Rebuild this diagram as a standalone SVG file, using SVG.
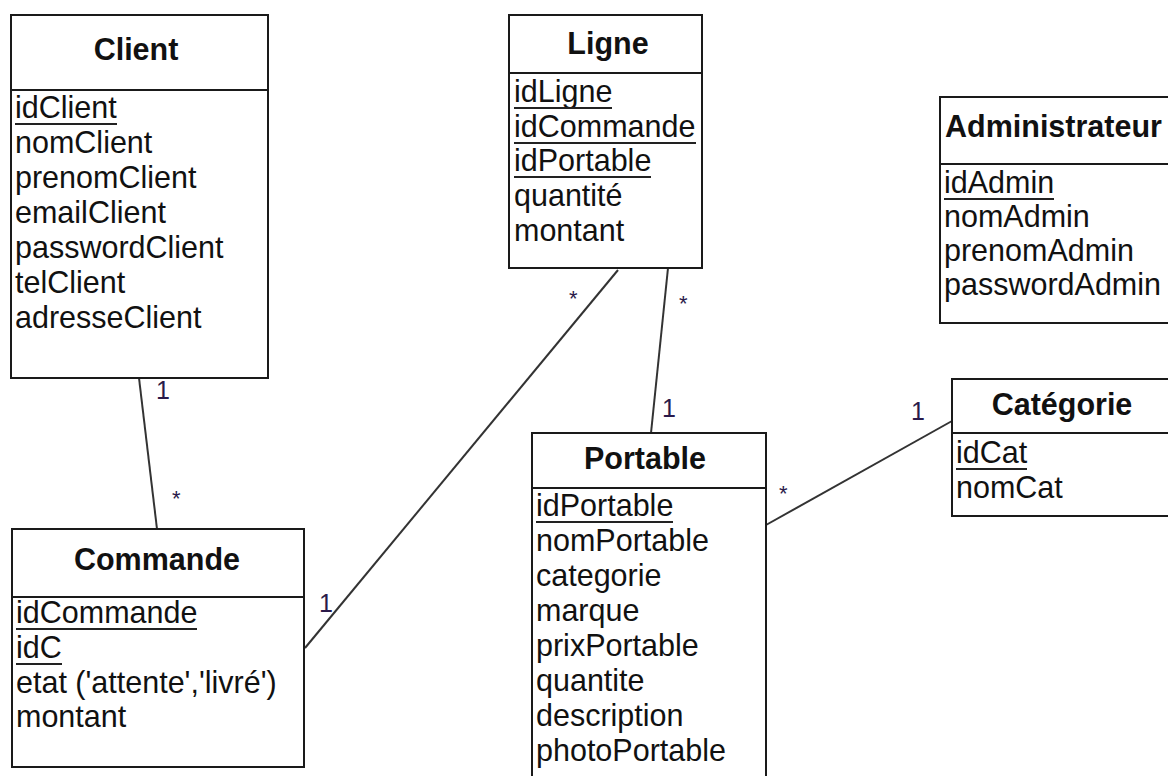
<svg xmlns="http://www.w3.org/2000/svg" width="1168" height="776" viewBox="0 0 1168 776">
  <style>
    .box { fill: #ffffff; stroke: #1a1a1a; stroke-width: 2; }
    .sep { stroke: #1a1a1a; stroke-width: 2; }
    .title { font-family: "Liberation Sans", Arial, sans-serif; font-size: 30.5px; font-weight: bold; fill: #111; text-anchor: middle; }
    .attr { font-family: "Liberation Sans", Arial, sans-serif; font-size: 30.5px; fill: #111; }
    .key { stroke: #222; stroke-width: 2; }
    .link { stroke: #333; stroke-width: 2; fill: none; }
    .mult { font-family: "Liberation Sans", Arial, sans-serif; font-size: 25px; fill: #2a1a4a; }
    .star { font-family: "Liberation Sans", Arial, sans-serif; font-size: 22px; fill: #2a1a4a; }
  </style>
  <rect width="1168" height="776" fill="#ffffff"/>

  <!-- associations -->
  <g id="connectors">
    <line class="link" x1="139" y1="378" x2="157" y2="529"/>
    <line class="link" x1="618" y1="270" x2="305" y2="648"/>
    <line class="link" x1="668" y1="268" x2="651" y2="433"/>
    <line class="link" x1="766" y1="525" x2="952" y2="421"/>
    <text class="mult" x="156" y="399">1</text>
    <text class="star" x="172" y="506">*</text>
    <text class="star" x="569" y="306">*</text>
    <text class="mult" x="319" y="612">1</text>
    <text class="star" x="679" y="311">*</text>
    <text class="mult" x="662" y="417">1</text>
    <text class="mult" x="911" y="420">1</text>
    <text class="star" x="779" y="501">*</text>
  </g>

  <g id="client">
    <rect class="box" x="11" y="15" width="257" height="363"/>
    <line class="sep" x1="11" y1="90" x2="268" y2="90"/>
    <text class="title" x="136" y="60">Client</text>
    <text class="attr" x="15" y="118">idClient</text>
    <line class="key" x1="15" y1="124" x2="117" y2="124"/>
    <text class="attr" x="15" y="153">nomClient</text>
    <text class="attr" x="15" y="188">prenomClient</text>
    <text class="attr" x="15" y="223">emailClient</text>
    <text class="attr" x="15" y="258">passwordClient</text>
    <text class="attr" x="15" y="293">telClient</text>
    <text class="attr" x="15" y="328">adresseClient</text>
  </g>

  <g id="ligne">
    <rect class="box" x="509" y="15" width="193" height="253"/>
    <line class="sep" x1="509" y1="73" x2="702" y2="73"/>
    <text class="title" x="608" y="54">Ligne</text>
    <text class="attr" x="514" y="102">idLigne</text>
    <line class="key" x1="514" y1="108" x2="612" y2="108"/>
    <text class="attr" x="514" y="137">idCommande</text>
    <line class="key" x1="514" y1="143" x2="696" y2="143"/>
    <text class="attr" x="514" y="171">idPortable</text>
    <line class="key" x1="514" y1="177" x2="651" y2="177"/>
    <text class="attr" x="514" y="206">quantité</text>
    <text class="attr" x="514" y="241">montant</text>
  </g>

  <g id="administrateur">
    <rect class="box" x="940" y="97" width="260" height="226"/>
    <line class="sep" x1="940" y1="164" x2="1200" y2="164"/>
    <text class="title" x="945" y="137" style="text-anchor:start">Administrateur</text>
    <text class="attr" x="944" y="193">idAdmin</text>
    <line class="key" x1="944" y1="199" x2="1054" y2="199"/>
    <text class="attr" x="944" y="227">nomAdmin</text>
    <text class="attr" x="944" y="261">prenomAdmin</text>
    <text class="attr" x="944" y="295">passwordAdmin</text>
  </g>

  <g id="categorie">
    <rect class="box" x="952" y="379" width="250" height="137"/>
    <line class="sep" x1="952" y1="433" x2="1202" y2="433"/>
    <text class="title" x="1062" y="415">Catégorie</text>
    <text class="attr" x="956" y="463">idCat</text>
    <line class="key" x1="956" y1="469" x2="1027" y2="469"/>
    <text class="attr" x="956" y="498">nomCat</text>
  </g>

  <g id="portable">
    <rect class="box" x="532" y="433" width="234" height="360"/>
    <line class="sep" x1="532" y1="488" x2="766" y2="488"/>
    <text class="title" x="645" y="469">Portable</text>
    <text class="attr" x="536" y="516">idPortable</text>
    <line class="key" x1="536" y1="522" x2="673" y2="522"/>
    <text class="attr" x="536" y="551">nomPortable</text>
    <text class="attr" x="536" y="586">categorie</text>
    <text class="attr" x="536" y="621">marque</text>
    <text class="attr" x="536" y="656">prixPortable</text>
    <text class="attr" x="536" y="691">quantite</text>
    <text class="attr" x="536" y="726">description</text>
    <text class="attr" x="536" y="761">photoPortable</text>
  </g>

  <g id="commande">
    <rect class="box" x="12" y="529" width="292" height="238"/>
    <line class="sep" x1="12" y1="597" x2="304" y2="597"/>
    <text class="title" x="157" y="570">Commande</text>
    <text class="attr" x="16" y="623">idCommande</text>
    <line class="key" x1="16" y1="629" x2="197" y2="629"/>
    <text class="attr" x="16" y="658">idC</text>
    <line class="key" x1="16" y1="664" x2="62" y2="664"/>
    <text class="attr" x="16" y="693">etat ('attente','livré')</text>
    <text class="attr" x="16" y="727">montant</text>
  </g>
</svg>
